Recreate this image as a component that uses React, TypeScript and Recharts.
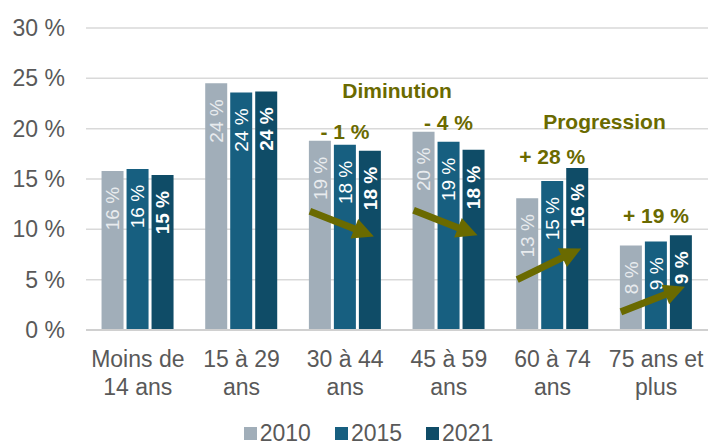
import { Bar, BarChart, CartesianGrid, LabelList, Legend, XAxis, YAxis } from 'recharts'

const FONT = '"Liberation Sans", Arial, sans-serif'
const OLIVE = '#6A6A00'

const categories = [
  'Moins de\n14 ans',
  '15 à 29\nans',
  '30 à 44\nans',
  '45 à 59\nans',
  '60 à 74\nans',
  '75 ans et\nplus',
]

const values2010 = [15.8, 24.5, 18.8, 19.7, 13.1, 8.4]
const values2015 = [16.0, 23.6, 18.4, 18.7, 14.8, 8.8]
const values2021 = [15.4, 23.7, 17.8, 17.9, 16.1, 9.4]

const labels2010 = ['16 %', '24 %', '19 %', '20 %', '13 %', '8 %']
const labels2015 = ['16 %', '24 %', '18 %', '19 %', '15 %', '9 %']
const labels2021 = ['15 %', '24 %', '18 %', '18 %', '16 %', '9 %']

const yTicks = [0, 5, 10, 15, 20, 25, 30]

// annotations (values in % on the y scale)
const changeText = ['', '', '- 1 %', '- 4 %', '+ 28 %', '+ 19 %']
const changeY = [0, 0, 19.0, 19.9, 16.5, 10.6]
const arrowFrom = [null, null, 11.8, 11.9, 5.0, 1.8]
const arrowTo = [null, null, 9.3, 9.4, 8.1, 4.3]
const headers = [
  { index: 3, text: 'Diminution', y: 23.0 },
  { index: 5, text: 'Progression', y: 20.0 },
]

const series = [
  { key: 'y2010', name: '2010', color: '#A1AEB9', labels: labels2010, labelFill: '#E8EBEE', bold: false },
  { key: 'y2015', name: '2015', color: '#175F80', labels: labels2015, labelFill: '#FFFFFF', bold: false },
  { key: 'y2021', name: '2021', color: '#0F4C67', labels: labels2021, labelFill: '#FFFFFF', bold: true },
]

const data = categories.map((cat, i) => ({
  cat,
  y2010: values2010[i],
  y2015: values2015[i],
  y2021: values2021[i],
}))

const BAR_GAP = 3
const CAT_GAP = 0.15

function valueLabel(labels: string[], fill: string, bold: boolean) {
  return (props: any) => {
    const { x, y, width, index } = props
    const fs = 19
    const cx = Number(x) + Number(width) / 2 + fs * 0.36
    const ty = Number(y) + 16
    return (
      <text
        x={cx}
        y={ty}
        transform={`rotate(-90 ${cx} ${ty})`}
        textAnchor="end"
        fill={fill}
        fontSize={fs}
        fontWeight={bold ? 'bold' : 'normal'}
        fontFamily={FONT}
      >
        {labels[index]}
      </text>
    )
  }
}

function arrowPoints(x1: number, y1: number, x2: number, y2: number) {
  const len = Math.hypot(x2 - x1, y2 - y1)
  const dx = (x2 - x1) / len
  const dy = (y2 - y1) / len
  const nx = -dy
  const ny = dx
  const t = 3.5
  const h = 10.5
  const bx = x2 - dx * 21
  const by = y2 - dy * 21
  const pts = [
    [x1 + nx * t, y1 + ny * t],
    [bx + nx * t, by + ny * t],
    [bx + nx * h, by + ny * h],
    [x2, y2],
    [bx - nx * h, by - ny * h],
    [bx - nx * t, by - ny * t],
    [x1 - nx * t, y1 - ny * t],
  ]
  return pts.map((p) => p.join(',')).join(' ')
}

// drawn with the last series: uses its bar geometry to place the notes
function annotationLabel(props: any) {
  const { x, y, width, height, index } = props
  const bx = Number(x)
  const w = Number(width)
  const v = values2021[index]
  const py = (val: number) => Number(y) + Number(height) - (val * Number(height)) / v
  const center = bx + w / 2 - (w + BAR_GAP)
  const left2010 = bx - 2 * (w + BAR_GAP)
  const band = (3 * w + 2 * BAR_GAP) / (1 - 2 * CAT_GAP)
  const from = arrowFrom[index]
  const to = arrowTo[index]
  const header = headers.find((h) => h.index === index)
  return (
    <g>
      {from != null && to != null && (
        <polygon points={arrowPoints(left2010 + 1, py(from), bx + w / 2 + 4, py(to))} fill={OLIVE} />
      )}
      {changeText[index] && (
        <text x={center} y={py(changeY[index])} textAnchor="middle" fill={OLIVE} fontSize={21} fontWeight="bold" fontFamily={FONT}>
          {changeText[index]}
        </text>
      )}
      {header && (
        <text x={center - band / 2} y={py(header.y)} textAnchor="middle" fill={OLIVE} fontSize={21} fontWeight="bold" fontFamily={FONT}>
          {header.text}
        </text>
      )}
    </g>
  )
}

function CategoryTick(props: any) {
  const { x, y, payload } = props
  const lines = String(payload.value).split('\n')
  return (
    <text x={x} y={y} textAnchor="middle" fill="#595959" fontSize={23} fontFamily={FONT}>
      {lines.map((l, i) => (
        <tspan key={i} x={x} y={Number(y) + 37 + i * 28}>
          {l}
        </tspan>
      ))}
    </text>
  )
}

function LegendContent() {
  return (
    <div
      style={{
        height: 26,
        boxSizing: 'border-box',
        paddingLeft: 28,
        display: 'flex',
        justifyContent: 'center',
        alignItems: 'center',
        fontFamily: FONT,
        fontSize: 23,
        color: '#595959',
        lineHeight: 1,
      }}
    >
      {series.map((s) => (
        <span key={s.key} style={{ display: 'flex', alignItems: 'center', margin: '0 12px' }}>
          <span style={{ width: 13, height: 13, background: s.color, marginRight: 3 }} />
          {s.name}
        </span>
      ))}
    </div>
  )
}

export default function App() {
  return (
    <div style={{ position: 'absolute', left: 0, top: 0, background: '#fff' }}>
      <BarChart
        width={709}
        height={446}
        data={data}
        margin={{ top: 28, right: 1, bottom: 0, left: 0 }}
        barCategoryGap="15%"
        barGap={BAR_GAP}
      >
        <CartesianGrid vertical={false} stroke="#D9D9D9" strokeWidth={1.5} />
        <XAxis
          dataKey="cat"
          height={90}
          tickLine={false}
          tickSize={0}
          tickMargin={0}
          interval={0}
          axisLine={{ stroke: '#D0D0D0', strokeWidth: 2 }}
          tick={<CategoryTick />}
        />
        <YAxis
          width={86}
          domain={[0, 30]}
          ticks={yTicks}
          tickFormatter={(v) => `${v} %`}
          tickLine={false}
          axisLine={false}
          tickSize={0}
          tickMargin={21}
          tick={{ fill: '#595959', fontSize: 23, fontFamily: FONT }}
        />
        <Legend verticalAlign="bottom" height={26} wrapperStyle={{ left: 0, width: 709, bottom: 0 }} content={<LegendContent />} />
        {series.map((s) => (
          <Bar key={s.key} dataKey={s.key} name={s.name} fill={s.color} isAnimationActive={false}>
            <LabelList dataKey={s.key} content={valueLabel(s.labels, s.labelFill, s.bold)} />
            {s.key === 'y2021' && <LabelList dataKey={s.key} content={annotationLabel} />}
          </Bar>
        ))}
      </BarChart>
    </div>
  )
}
